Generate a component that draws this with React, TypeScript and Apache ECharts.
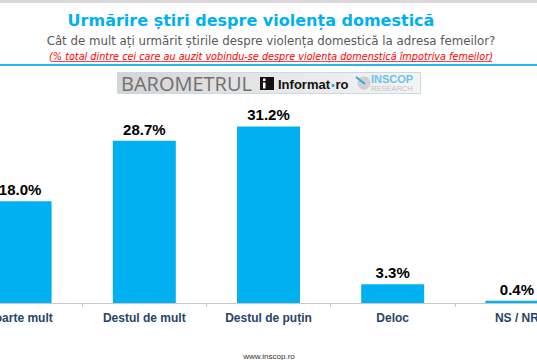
import React, { useEffect, useRef } from "react";
import * as echarts from "echarts";

const categories = ["Foarte mult", "Destul de mult", "Destul de puțin", "Deloc", "NS / NR"];
const values = [18.0, 28.7, 31.2, 3.3, 0.4];
const titleText = "Urmărire știri despre violența domestică";
const subtitleText = "Cât de mult ați urmărit știrile despre violența domestică la adresa femeilor?";
const noteText = "(% total dintre cei care au auzit vobindu-se despre violența domenstică împotriva femeilor)";
const footerText = "www.inscop.ro";

const OX = 42;

export default function App() {
  const ref = useRef<HTMLDivElement>(null);
  useEffect(() => {
    if (!ref.current) return;
    const chart = echarts.init(ref.current, null, { renderer: "svg" });
    const X = (v: number) => v + OX;
    chart.setOption({
      animation: false,
      backgroundColor: "#ffffff",
      grid: { left: 0, right: 0, top: 105, bottom: 57, containLabel: false },
      xAxis: {
        type: "category",
        data: categories,
        axisLine: { lineStyle: { color: "#c8c8c8", width: 1 } },
        axisTick: { show: true, length: 4, lineStyle: { color: "#c8c8c8" } },
        axisLabel: {
          interval: 0,
          color: "#2a4466",
          fontFamily: "Liberation Sans, Arial, sans-serif",
          fontWeight: "bold",
          fontSize: 12,
          margin: 9,
        },
      },
      yAxis: { type: "value", min: 0, max: 35, show: false, splitLine: { show: false } },
      series: [
        {
          type: "bar",
          data: values,
          barWidth: 63,
          itemStyle: { color: "#00b0f0" },
          label: {
            show: true,
            position: "top",
            distance: 4,
            formatter: (p: any) => p.value.toFixed(1) + "%",
            color: "#000000",
            fontFamily: "Liberation Sans, Arial, sans-serif",
            fontWeight: "bold",
            fontSize: 15,
          },
        },
      ],
      graphic: [
        { type: "rect", shape: { x: X(0), y: 0, width: 537, height: 3 }, style: { fill: "#d9d9d9" } },
        {
          type: "text",
          x: X(251),
          y: 20,
          style: {
            text: titleText,
            fill: "#00b0f0",
            font: "bold 16px 'DejaVu Sans', Verdana, sans-serif",
            align: "center",
            verticalAlign: "middle",
          },
        },
        {
          type: "text",
          x: X(271),
          y: 41,
          style: {
            text: subtitleText,
            fill: "#595959",
            font: "11.8px 'DejaVu Sans', Tahoma, sans-serif",
            align: "center",
            verticalAlign: "middle",
          },
        },
        {
          type: "text",
          x: X(271),
          y: 56,
          style: {
            text: noteText,
            fill: "#ff0000",
            font: "italic 9.7px 'DejaVu Sans', Tahoma, sans-serif",
            align: "center",
            verticalAlign: "middle",
          },
        },
        { type: "rect", shape: { x: X(51), y: 61.3, width: 441, height: 0.8 }, style: { fill: "#ff0000" } },
        { type: "rect", shape: { x: X(0), y: 64, width: 537, height: 2 }, style: { fill: "#2ab4ea" } },
        {
          type: "rect",
          shape: { x: X(117.5), y: 72.5, width: 303, height: 21 },
          style: {
            fill: new echarts.graphic.LinearGradient(0, 0, 1, 0, [
              { offset: 0, color: "#d4d4d4" },
              { offset: 0.5, color: "#e6e6e6" },
              { offset: 1, color: "#f4f4f4" },
            ]),
            stroke: "#c6dbe6",
            lineWidth: 1,
          },
        },
        {
          type: "text",
          x: X(121),
          y: 83.5,
          style: {
            text: "BAROMETRUL",
            fill: "#707070",
            font: "20px 'Open Sans', Lato, sans-serif",
            align: "left",
            verticalAlign: "middle",
          },
        },
        { type: "rect", shape: { x: X(260), y: 77, width: 14, height: 13 }, style: { fill: "#111111" } },
        { type: "rect", shape: { x: X(263), y: 78.5, width: 2.5, height: 2.5 }, style: { fill: "#ffffff" } },
        { type: "rect", shape: { x: X(263), y: 82.5, width: 2.5, height: 6 }, style: { fill: "#ffffff" } },
        {
          type: "text",
          x: X(278),
          y: 84.5,
          style: {
            text: "Informat",
            fill: "#111111",
            font: "bold 13px 'Liberation Sans', Arial, sans-serif",
            align: "left",
            verticalAlign: "middle",
          },
        },
        { type: "circle", shape: { cx: X(333), cy: 85.5, r: 1.6 }, style: { fill: "#29a9e0" } },
        {
          type: "text",
          x: X(335.5),
          y: 84.5,
          style: {
            text: "ro",
            fill: "#111111",
            font: "bold 13px 'Liberation Sans', Arial, sans-serif",
            align: "left",
            verticalAlign: "middle",
          },
        },
        { type: "circle", shape: { cx: X(364), cy: 83, r: 6.5 }, style: { fill: "#d0d0d0" } },
        { type: "line", shape: { x1: X(356), y1: 77, x2: X(365), y2: 84 }, style: { stroke: "#29a9e0", lineWidth: 2 } },
        {
          type: "text",
          x: X(371),
          y: 79,
          style: {
            text: "INSCOP",
            fill: "#6cc3ea",
            font: "bold 11px 'Liberation Sans', Arial, sans-serif",
            align: "left",
            verticalAlign: "middle",
          },
        },
        {
          type: "text",
          x: X(371),
          y: 88.5,
          style: {
            text: "RESEARCH",
            fill: "#c4c4c4",
            font: "7.5px 'Liberation Sans', Arial, sans-serif",
            align: "left",
            verticalAlign: "middle",
          },
        },
        {
          type: "text",
          x: X(269),
          y: 356,
          style: {
            text: footerText,
            fill: "#333333",
            font: "8px 'Liberation Sans', Arial, sans-serif",
            align: "center",
            verticalAlign: "middle",
          },
        },
      ],
    });
    return () => chart.dispose();
  }, []);
  return (
    <div style={{ position: "absolute", left: 0, top: 0, width: 537, height: 360, overflow: "hidden" }}>
      <div
        ref={ref}
        style={{ position: "absolute", left: -OX, top: 0, width: 537 + 2 * OX, height: 360 }}
      />
    </div>
  );
}
